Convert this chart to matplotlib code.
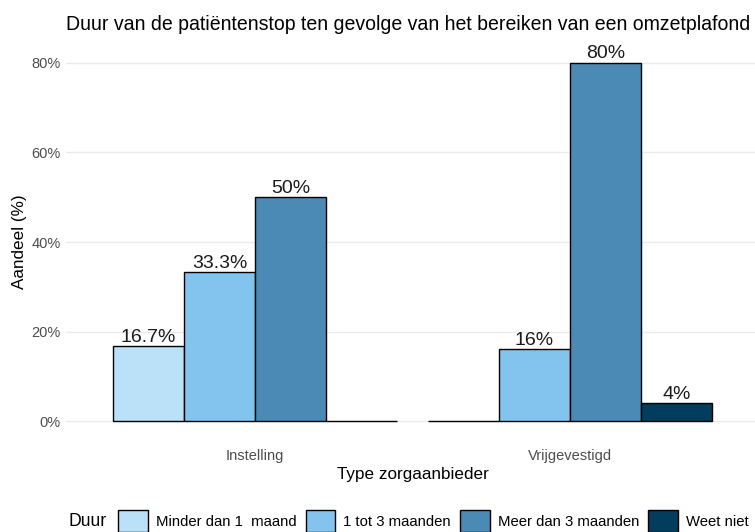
import matplotlib.pyplot as plt
from matplotlib.patches import Patch
import numpy as np

plt.rcParams['font.family'] = ['Liberation Sans', 'DejaVu Sans']

categories = ['Instelling', 'Vrijgevestigd']
durations = ['Minder dan 1  maand', '1 tot 3 maanden', 'Meer dan 3 maanden', 'Weet niet']
shares = {
    'Minder dan 1  maand': [16.7, 0],
    '1 tot 3 maanden': [33.3, 16],
    'Meer dan 3 maanden': [50, 80],
    'Weet niet': [0, 4],
}
labels = {
    'Minder dan 1  maand': ['16.7%', ''],
    '1 tot 3 maanden': ['33.3%', '16%'],
    'Meer dan 3 maanden': ['50%', '80%'],
    'Weet niet': ['', '4%'],
}
colors = ['#BBE1F9', '#82C4EE', '#4A8AB5', '#033D5E']
y_ticks = [0, 20, 40, 60, 80]

fig = plt.figure(figsize=(7.55, 5.32), dpi=100)
# panel runs past the right edge, like the cropped original
ax = fig.add_axes([66/755, 93/532, 693/755, 394/532])

x = np.arange(1, len(categories) + 1)
width = 0.225
for i, d in enumerate(durations):
    pos = x + (i - 1.5) * width
    ax.bar(pos, shares[d], width, color=colors[i], edgecolor='black', linewidth=1.0, zorder=3)
    for xp, v, lab in zip(pos, shares[d], labels[d]):
        if lab:
            ax.text(xp, v + 0.1, lab, ha='center', va='bottom', fontsize=14, color='#1a1a1a', zorder=4)

ax.set_xlim(0.4, 2.6)
ax.set_ylim(-4, 84)
ax.set_yticks(y_ticks)
ax.set_yticklabels([f'{t}%' for t in y_ticks])
ax.set_xticks(x)
ax.set_xticklabels(categories)
ax.tick_params(length=0, labelsize=10.5, labelcolor='#4D4D4D', pad=4)
ax.tick_params(axis='x', pad=7)
ax.grid(axis='y', color='#EBEBEB', linewidth=1.0, zorder=0)
for s in ax.spines.values():
    s.set_visible(False)

ax.set_ylabel('Aandeel (%)', fontsize=12.3, labelpad=3)
ax.set_xlabel('Type zorgaanbieder', fontsize=12.3, labelpad=3)
fig.text(66/755, 1 - 25/532, 'Duur van de patiëntenstop ten gevolge van het bereiken van een omzetplafond',
         fontsize=14.05, ha='left', va='center')

handles = [Patch(facecolor=c, edgecolor='black', linewidth=1.0) for c in colors]
fig.text(68/755, 1 - 521/532, 'Duur', fontsize=12.7, ha='left', va='center')
fig.legend(handles, durations, loc='center left', bbox_to_anchor=(118/755, 1 - 521/532),
           ncol=4, frameon=False, fontsize=10.75, handlelength=2.0, handleheight=1.9,
           handletextpad=0.54, columnspacing=0.6, borderpad=0, borderaxespad=0)

fig.savefig('out.png', dpi=100)
